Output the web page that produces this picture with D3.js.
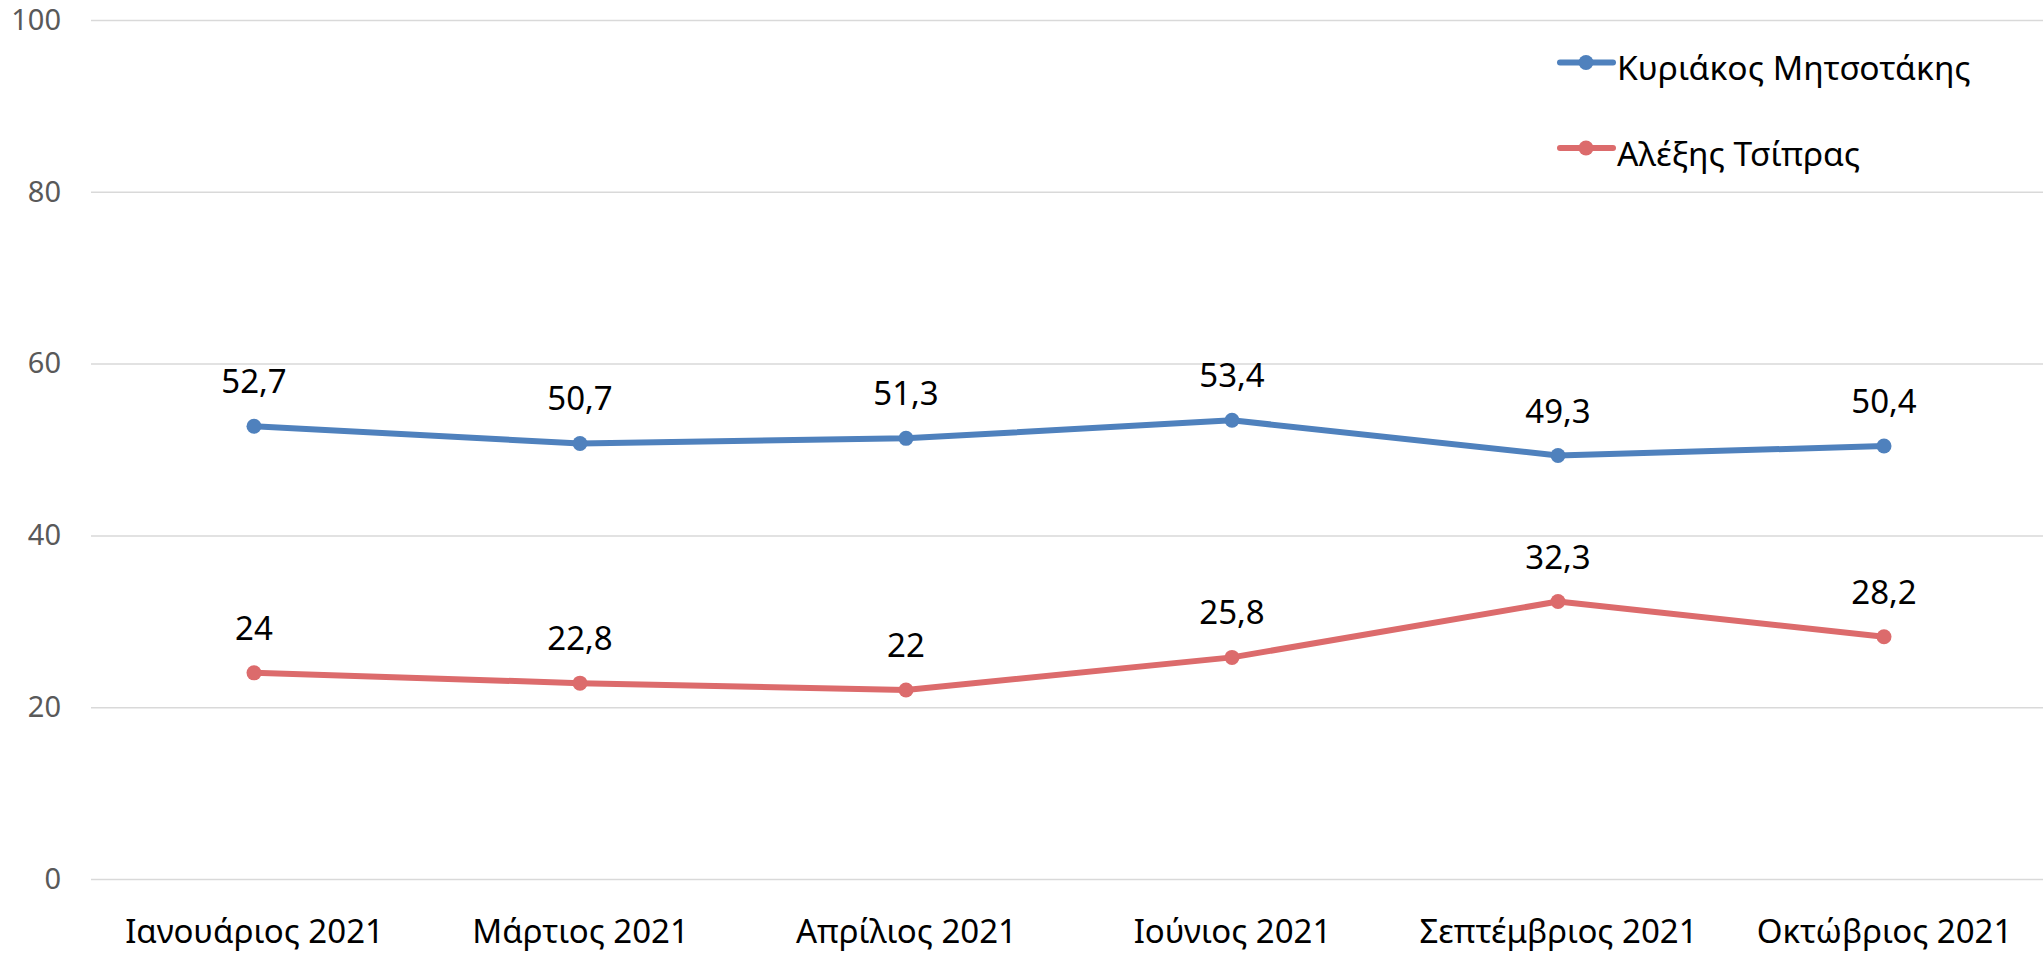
<!DOCTYPE html>
<html>
<head>
<meta charset="utf-8">
<script src="https://cdn.jsdelivr.net/npm/d3@7"></script>
<style>
  html, body { margin: 0; padding: 0; background: #fff; }
  svg { display: block; font-family: "Noto Sans", "Open Sans", sans-serif; }
</style>
</head>
<body>
<svg id="chart" width="2043" height="954"></svg>
<script>
// Months surveyed
const months = ["Ιανουάριος 2021", "Μάρτιος 2021", "Απρίλιος 2021", "Ιούνιος 2021", "Σεπτέμβριος 2021", "Οκτώβριος 2021"];
// Series names
const seriesNames = ["Κυριάκος Μητσοτάκης", "Αλέξης Τσίπρας"];
// Values per series
const mitsotakis = [52.7, 50.7, 51.3, 53.4, 49.3, 50.4];
const tsipras = [24, 22.8, 22, 25.8, 32.3, 28.2];
// Y axis ticks
const yTicks = [0, 20, 40, 60, 80, 100];
const colors = ["#4F81BD", "#DC6B6C"];

const seriesList = [
  { name: seriesNames[0], values: mitsotakis, color: colors[0] },
  { name: seriesNames[1], values: tsipras, color: colors[1] }
];

const svg = d3.select("#chart");
const plotLeft = 91, plotRight = 2047, gridRight = 2043, plotTop = 20, plotBottom = 879;

const x = d3.scalePoint().domain(months).range([plotLeft, plotRight]).padding(0.5);
const y = d3.scaleLinear().domain([0, 100]).range([plotBottom, plotTop]);

// Horizontal gridlines with value labels
const yAxis = d3.axisLeft(y).tickValues(yTicks).tickSize(-(gridRight - plotLeft)).tickPadding(30).tickFormat(d3.format("d"));
const gy = svg.append("g").attr("transform", `translate(${plotLeft},0)`).call(yAxis);
gy.select(".domain").remove();
gy.selectAll(".tick line").attr("stroke", "#d9d9d9").attr("stroke-width", 1.5);
gy.selectAll(".tick text").attr("fill", "#595959").attr("font-size", 29).attr("font-family", "Noto Sans, Open Sans, sans-serif");

// Category labels
const xAxis = d3.axisBottom(x).tickSize(0).tickPadding(0);
const gx = svg.append("g").attr("transform", `translate(0,${plotBottom})`).call(xAxis);
gx.select(".domain").remove();
gx.selectAll(".tick text")
  .attr("fill", "#000")
  .attr("font-size", 33)
  .attr("font-family", "Noto Sans, Open Sans, sans-serif")
  .attr("dy", null)
  .attr("y", 64);

const line = d3.line().x((d, i) => x(months[i])).y(d => y(d));

seriesList.forEach(s => {
  const g = svg.append("g");
  g.append("path")
    .datum(s.values)
    .attr("d", line)
    .attr("fill", "none")
    .attr("stroke", s.color)
    .attr("stroke-width", 6)
    .attr("stroke-linejoin", "round");
  g.selectAll("circle")
    .data(s.values)
    .join("circle")
    .attr("cx", (d, i) => x(months[i]))
    .attr("cy", d => y(d))
    .attr("r", 7.5)
    .attr("fill", s.color);
  g.selectAll("text")
    .data(s.values)
    .join("text")
    .attr("x", (d, i) => x(months[i]))
    .attr("y", d => y(d) - 33)
    .attr("text-anchor", "middle")
    .attr("font-size", 33)
    .attr("fill", "#000")
    .text(d => String(d).replace(".", ","));
});

// Legend
const legend = svg.append("g");
seriesList.forEach((s, i) => {
  const ly = 62.5 + i * 85.5;
  const lg = legend.append("g").attr("transform", `translate(0,${ly})`);
  lg.append("line").attr("x1", 1560).attr("x2", 1613).attr("y1", 0).attr("y2", 0)
    .attr("stroke", s.color).attr("stroke-width", 6).attr("stroke-linecap", "round");
  lg.append("circle").attr("cx", 1586).attr("cy", 0).attr("r", 7.5).attr("fill", s.color);
  lg.append("text").attr("x", 1617).attr("y", 17.5).attr("font-size", 33.6).attr("fill", "#000").text(s.name);
});
</script>
</body>
</html>
